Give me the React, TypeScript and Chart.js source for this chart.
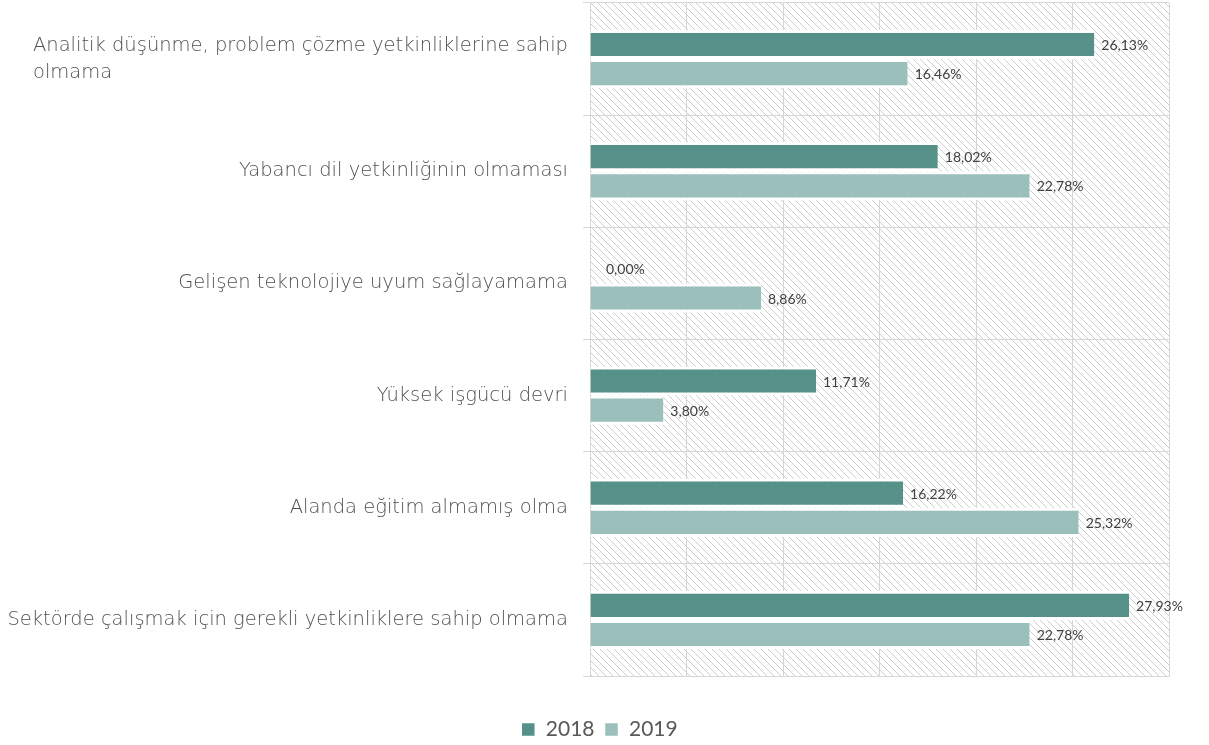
import React, { useEffect, useRef } from "react";
import { Chart, registerables } from "chart.js";

Chart.register(...registerables);

const categories: (string | string[])[] = [
  ["Analitik düşünme, problem çözme yetkinliklerine sahip", "olmama"],
  "Yabancı dil yetkinliğinin olmaması",
  "Gelişen teknolojiye uyum sağlayamama",
  "Yüksek işgücü devri",
  "Alanda eğitim almamış olma",
  "Sektörde çalışmak için gerekli yetkinliklere sahip olmama",
];
const values2018 = [26.13, 18.02, 0, 11.71, 16.22, 27.93];
const values2019 = [16.46, 22.78, 8.86, 3.8, 25.32, 22.78];
const seriesNames = ["2018", "2019"];
const xMin = 0;
const xMax = 30;
const xStep = 5;

const COLOR_2018 = "#559189";
const COLOR_2019 = "#9bbfbb";
const TEXT = "#595959";

const hatchPlugin = {
  id: "hatchBg",
  beforeDraw(chart: any) {
    const { ctx, chartArea } = chart;
    if (!chartArea) return;
    const c = document.createElement("canvas");
    c.width = 7;
    c.height = 7;
    const p = c.getContext("2d")!;
    p.fillStyle = "#ffffff";
    p.fillRect(0, 0, 7, 7);
    p.strokeStyle = "#cfcfcf";
    p.lineWidth = 1;
    p.beginPath();
    p.moveTo(-1, -1);
    p.lineTo(8, 8);
    p.moveTo(-1, 6);
    p.lineTo(1, 8);
    p.moveTo(6, -1);
    p.lineTo(8, 1);
    p.stroke();
    const pattern = ctx.createPattern(c, "repeat");
    ctx.save();
    ctx.fillStyle = pattern;
    ctx.fillRect(
      chartArea.left,
      chartArea.top,
      chartArea.right - chartArea.left,
      chartArea.bottom - chartArea.top
    );
    ctx.restore();
  },
};

const labelsPlugin = {
  id: "customLabels",
  afterDraw(chart: any) {
    const { ctx } = chart;
    const yScale = chart.scales.y;
    ctx.save();
    ctx.font = "300 19.5px 'DejaVu Sans'";
    ctx.fillStyle = "#505050";
    ctx.textBaseline = "middle";
    const rightEdge = yScale.right - 22;
    const lineH = 27;
    categories.forEach((cat, i) => {
      const y = yScale.getPixelForTick(i);
      const lines = Array.isArray(cat) ? cat : [cat];
      const widest = Math.max(...lines.map((l) => ctx.measureText(l).width));
      const startY = y - ((lines.length - 1) * lineH) / 2;
      ctx.textAlign = "left";
      lines.forEach((l, j) => {
        ctx.fillText(l, rightEdge - widest, startY + j * lineH);
      });
    });
    ctx.font = "14px Lato";
    ctx.fillStyle = "#404040";
    ctx.textAlign = "left";
    chart.data.datasets.forEach((ds: any, di: number) => {
      const meta = chart.getDatasetMeta(di);
      meta.data.forEach((bar: any, i: number) => {
        const v = ds.data[i];
        const txt = v.toFixed(2).replace(".", ",") + "%";
        const off = v === 0 ? 16 : 7;
        ctx.fillText(txt, bar.x + off, bar.y + 1);
      });
    });
    ctx.restore();
  },
};

export default function App() {
  const ref = useRef<HTMLCanvasElement | null>(null);
  useEffect(() => {
    if (!ref.current) return;
    const chart = new Chart(ref.current, {
      type: "bar",
      data: {
        labels: categories.map((c) => (Array.isArray(c) ? c.join(" ") : c)),
        datasets: [
          {
            label: seriesNames[0],
            data: values2018,
            backgroundColor: COLOR_2018,
            borderColor: "#ffffff",
            borderWidth: { top: 3, bottom: 3, left: 0, right: 0 },
            borderSkipped: false,
            barPercentage: 1,
            categoryPercentage: 0.52,
          },
          {
            label: seriesNames[1],
            data: values2019,
            backgroundColor: COLOR_2019,
            borderColor: "#ffffff",
            borderWidth: { top: 3, bottom: 3, left: 0, right: 0 },
            borderSkipped: false,
            barPercentage: 1,
            categoryPercentage: 0.52,
          },
        ],
      },
      options: {
        indexAxis: "y",
        animation: false,
        responsive: false,
        maintainAspectRatio: false,
        layout: { padding: { top: 3, right: 40, left: 30, bottom: -5 } },
        scales: {
          x: {
            min: xMin,
            max: xMax,
            ticks: { display: false, stepSize: xStep },
            grid: { color: "#d6d6d6", lineWidth: 1, drawTicks: false },
            border: { color: "#d6d6d6" },
            afterFit: (s: any) => {
              s.height = 33;
            },
          },
          y: {
            ticks: { display: false },
            grid: { color: "#d6d6d6", lineWidth: 1, drawTicks: true, tickLength: 7, offset: true },
            border: { color: "#d6d6d6" },
            afterFit: (s: any) => {
              s.width = 560;
            },
          },
        },
        plugins: {
          legend: {
            position: "bottom",
            labels: {
              boxWidth: 14,
              boxHeight: 14,
              color: TEXT,
              font: { family: "Lato", size: 21 },
              padding: 10,
            },
          },
          tooltip: { enabled: false },
        },
      },
      plugins: [hatchPlugin, labelsPlugin],
    });
    return () => chart.destroy();
  }, []);
  return (
    <div style={{ position: "fixed", left: 0, top: 0, width: 1209, height: 745, background: "#fff" }}>
      <canvas ref={ref} width={1209} height={745} style={{ width: 1209, height: 745 }} />
    </div>
  );
}
